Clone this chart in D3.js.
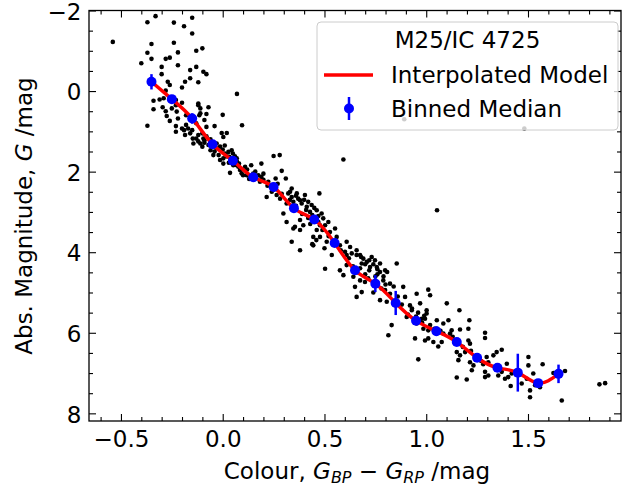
<!DOCTYPE html>
<html>
<head>
<meta charset="utf-8">
<script src="https://cdn.jsdelivr.net/npm/d3@7"></script>
<style>
  body { margin: 0; background: white; }
  svg { font-family: "DejaVu Sans", sans-serif; }
</style>
</head>
<body>
<script>
const width = 622;
const height = 486;

// Binned medians (colour bin centre, median abs. mag, error)
const binColour = [-0.35, -0.25, -0.15, -0.05, 0.05, 0.15, 0.25, 0.35, 0.45, 0.55, 0.65,
                   0.75, 0.85, 0.95, 1.05, 1.15, 1.25, 1.35, 1.45, 1.55, 1.65];
const binMag = [-0.23, 0.20, 0.68, 1.32, 1.73, 2.14, 2.38, 2.91, 3.19, 3.77, 4.45,
                4.78, 5.26, 5.70, 5.96, 6.23, 6.62, 6.87, 6.99, 7.25, 7.02];
const binErr = [0.19, 0.10, 0.13, 0.06, 0.05, 0.05, 0.05, 0.05, 0.07, 0.05, 0.05,
                0.21, 0.30, 0.05, 0.12, 0.05, 0.05, 0.05, 0.47, 0.05, 0.23];

// Cluster members [colour, abs. mag]
const stars = [
  [-0.33,-1.86],[-0.37,-1.71],[-0.24,-1.70],[-0.19,-1.61],[-0.15,-1.82],[-0.15,-1.43],
  [-0.54,-1.22],[-0.35,-1.17],[-0.24,-1.20],[-0.37,-0.95],[-0.22,-0.96],[-0.13,-1.00],
  [-0.10,-1.06],[-0.35,-0.80],[-0.28,-0.80],[-0.26,-0.83],[-0.40,-0.69],[-0.22,-0.64],
  [-0.30,-0.60],[-0.13,-0.60],[-0.16,-0.52],[-0.095,-0.48],[-0.08,-0.42],[-0.30,-0.42],
  [-0.16,-0.32],[-0.185,-0.23],[-0.12,-0.22],[-0.27,-0.23],[-0.26,-0.15],[-0.20,-0.09],
  [-0.28,-0.01],[-0.31,0.21],[-0.34,0.24],[-0.29,0.18],[-0.23,0.22],[-0.20,0.29],
  [-0.34,0.45],[-0.295,0.40],[-0.28,0.50],[-0.23,0.35],[-0.25,0.43],[-0.12,0.31],
  [-0.11,0.43],[-0.07,0.40],[-0.275,0.62],[-0.22,0.68],[-0.26,0.74],[-0.18,0.60],
  [-0.115,0.60],[-0.08,0.57],[0.00,0.59],[-0.09,0.72],[-0.13,0.80],[-0.08,0.89],
  [-0.04,0.87],[-0.37,0.86],[-0.23,0.87],[-0.18,0.84],[-0.19,0.97],[-0.17,0.93],
  [-0.23,1.01],[-0.185,1.09],[-0.15,0.97],[-0.005,1.04],[0.02,1.04],[0.07,0.07],
  [0.095,0.85],
  [-0.10,1.05],[-0.09,1.22],[-0.11,1.30],[-0.07,1.34],[-0.06,1.47],[-0.03,1.42],
  [-0.046,1.59],[-0.02,1.59],[-0.013,1.71],[0.003,1.67],[0.028,1.51],[0.044,1.47],
  [0.011,1.55],[0.032,1.63],[0.052,1.84],[0.069,1.84],[0.085,1.96],[0.10,2.09],
  [0.14,1.84],[0.19,1.80],[0.16,2.00],[0.175,2.09],[0.19,2.13],[0.25,1.61],
  [0.28,1.59],[0.29,1.98],[0.31,2.17],[0.26,2.17],
  [-0.226,0.51],[-0.20,0.93],[-0.16,1.05],[-0.12,0.35],[-0.11,0.55],[-0.13,1.18],
  [-0.095,1.18],[-0.10,1.38],[-0.013,1.38],
  [-0.147,1.18],[-0.12,1.09],[-0.144,1.30],[-0.08,1.12],[0.003,1.14],[0.003,1.80],
  [0.036,2.03],[0.069,1.67],[0.077,1.88],[0.093,2.04],[0.11,1.88],[0.118,2.09],
  [0.183,2.25],[0.224,2.25],[0.216,2.63],[0.241,2.50],[0.265,2.58],[0.282,2.67],
  [0.331,2.50],[0.339,2.63],[0.364,2.54],[0.314,2.79],[0.347,2.75],[0.38,2.71],
  [0.404,2.58],[0.413,2.87],[0.298,3.04],[0.314,3.25],[0.355,3.37],[0.38,3.20],
  [0.396,3.33],
  [0.339,2.42],[0.322,2.54],[0.371,2.67],[0.388,2.79],[0.437,2.83],[0.475,2.54],
  [0.429,3.00],[0.462,2.96],[0.486,3.04],[0.494,3.16],[0.519,3.25],[0.503,3.33],
  [0.478,3.33],[0.462,3.45],[0.445,3.62],[0.478,3.62],[0.527,3.50],[0.552,3.41],
  [0.56,3.62],[0.511,3.74],[0.543,3.78],[0.576,3.83],[0.609,3.74],[0.626,3.87],
  [0.601,3.99],[0.634,4.03],[0.658,3.95],[0.675,4.07],[0.691,4.16],[0.708,4.24],
  [0.683,4.28],[0.724,4.37],[0.748,4.20],[0.757,4.37],[0.798,4.45],[0.773,4.49],
  [0.503,4.41],[0.576,4.45],[0.593,4.57],[0.38,3.95],[0.339,3.74],[0.347,3.41],
  [0.38,3.45],[0.445,3.83],[0.536,4.07],[0.44,3.80],
  [0.609,4.07],[0.658,4.07],[0.732,4.12],[0.773,4.28],[0.609,4.32],[0.675,4.40],
  [0.808,4.49],[0.855,4.28],[0.642,4.61],[0.675,4.70],[0.699,4.74],[0.715,4.65],
  [0.65,4.86],[0.683,4.99],[0.658,5.11],[0.789,4.70],[0.822,4.78],[0.798,4.94],
  [0.822,5.03],[0.773,5.19],[0.806,5.23],[0.887,4.86],[0.896,5.11],[0.953,5.03],
  [1.01,4.93],[1.019,5.07],[0.92,5.32],[0.929,5.44],[0.97,5.27],[1.002,5.44],
  [0.904,5.61],[0.994,5.65],[0.953,5.77],[1.019,5.81],[1.052,5.69],[1.084,5.77],
  [1.101,5.27],[1.109,5.69],[0.83,5.81],[0.814,6.06],[0.945,6.14],[1.01,6.14],
  [1.059,6.34],
  [1.002,5.52],[0.978,5.65],[0.986,5.90],[1.01,5.94],[1.163,5.44],[1.125,5.94],
  [1.117,6.02],[1.084,6.02],[1.166,5.92],[1.212,5.69],[1.207,5.90],[0.994,6.19],
  [1.035,6.23],[1.076,6.23],[1.207,6.19],[1.215,6.27],[1.289,6.00],[1.289,6.13],
  [1.15,6.48],[1.166,6.56],[1.158,6.68],[1.191,6.48],[1.215,6.73],[1.224,6.93],
  [1.232,6.81],[1.297,6.60],[1.305,6.73],[1.33,6.56],[1.346,6.48],[1.371,6.42],
  [1.289,6.97],[1.289,7.10],[1.305,7.06],[1.354,7.06],[1.371,6.97],[1.396,6.77],
  [1.387,7.14],[1.403,7.10],[1.42,7.01],[1.415,7.32],[1.469,7.26],[1.494,7.14],
  [1.502,6.81],[1.502,6.60],[1.526,7.01],[1.572,6.78],[1.535,7.30],[1.51,7.43],
  [1.51,7.60],[1.559,7.35],[1.625,7.00],[1.682,6.95],[1.666,7.68],[1.851,7.28],
  [1.879,7.25],[1.15,7.11],[1.199,7.16],[0.961,6.66],
  [0.593,1.70],[1.053,2.96],[0.892,0.70],[1.482,0.93],
  [-0.12,1.25],[-0.09,1.28],[-0.06,1.25],[-0.05,1.35],[-0.04,1.50],[0.02,1.62],
  [0.04,1.72],[0.06,1.62],[0.36,2.60],[0.40,2.70],[0.42,2.75],[0.45,2.90],
  [0.41,2.95],[0.44,3.08],[0.47,3.10],[0.68,4.12],[0.70,4.30],[0.72,4.20],
  [0.74,4.30],[0.76,4.42],[0.76,4.55],[0.79,4.60],[0.80,4.80],[0.84,4.85],
  [0.93,5.40],[0.96,5.50],[0.99,5.58],[0.95,5.60],[1.25,6.65],[1.27,6.70],[1.28,6.78],
  [-0.06,1.20],[-0.03,1.30],[0.00,1.45],[0.01,1.35],[0.05,1.55],[0.07,1.75],
  [0.03,1.78],[0.08,1.80],[0.12,1.95],[0.15,2.05],[0.13,2.18],[0.20,2.20],
  [0.22,2.35],[0.25,2.45],[0.27,2.30],[0.29,2.55],[0.20,2.05],[0.33,2.70],
  [0.36,2.85],[0.39,3.05],[0.42,3.15],[0.43,3.30],[0.47,3.25],[0.49,3.45],
  [0.46,3.70],[0.52,3.60],[0.50,3.90],[0.58,3.95],[0.62,4.15],[0.64,4.35],
  [0.66,4.50],[0.70,4.55],[0.72,4.45],[0.75,4.60],[0.78,4.90],[0.74,5.00],
  [0.86,5.10],[0.88,5.30],[0.91,5.55],[0.98,5.75],[1.04,5.90],[1.07,5.95],
  [1.13,6.10],[1.18,6.35],[1.22,6.45]
];

const xTicks = [-0.5, 0.0, 0.5, 1.0, 1.5];
const yTicks = [-2, 0, 2, 4, 6, 8];
const legendTitle = "M25/IC 4725";
const legendLabels = ["Interpolated Model", "Binned Median"];

const fontSize = 23;

const x = d3.scaleLinear().domain([-0.657, 1.957]).range([89, 621]);
const y = d3.scaleLinear().domain([-2, 8.19]).range([10.5, 421]);

const svg = d3.select("body")
  .append("svg")
  .attr("width", width)
  .attr("height", height);

// Stars
svg.append("g").selectAll("circle")
  .data(stars)
  .join("circle")
  .attr("cx", d => x(d[0]))
  .attr("cy", d => y(d[1]))
  .attr("r", 2.3)
  .attr("fill", "black");

// Model line through the binned medians
const bins = binColour.map((c, i) => ({c: c, m: binMag[i], e: binErr[i]}));
const line = d3.line()
  .x(d => x(d.c))
  .y(d => y(d.m))
  .curve(d3.curveNatural);

svg.append("path")
  .datum(bins)
  .attr("d", line)
  .attr("fill", "none")
  .attr("stroke", "red")
  .attr("stroke-width", 3.4);

// Binned medians with error bars
svg.append("g").selectAll("line")
  .data(bins)
  .join("line")
  .attr("x1", d => x(d.c))
  .attr("x2", d => x(d.c))
  .attr("y1", d => y(d.m - d.e))
  .attr("y2", d => y(d.m + d.e))
  .attr("stroke", "blue")
  .attr("stroke-width", 2.5);

svg.append("g").selectAll("circle")
  .data(bins)
  .join("circle")
  .attr("cx", d => x(d.c))
  .attr("cy", d => y(d.m))
  .attr("r", 5)
  .attr("fill", "blue");

// Axes: inward ticks on all four sides
const minorX = x.ticks(26).filter(t => !xTicks.some(v => Math.abs(v - t) < 1e-9));
const minorY = y.ticks(20).filter(t => !yTicks.some(v => Math.abs(v - t) < 1e-9));

function style(g) {
  g.select(".domain").remove();
  g.attr("font-size", fontSize).attr("font-family", "DejaVu Sans");
  g.selectAll("line").attr("stroke", "black").attr("stroke-width", 1.1);
  g.selectAll("text").attr("fill", "black");
}

svg.append("g").attr("transform", "translate(0,421)")
  .call(d3.axisBottom(x).tickValues(xTicks).tickSize(-7).tickPadding(9.7)
    .tickFormat(d3.format(".1f")))
  .call(style);
svg.append("g").attr("transform", "translate(0,421)")
  .call(d3.axisBottom(x).tickValues(minorX).tickSize(-4).tickFormat(""))
  .call(style);
svg.append("g").attr("transform", "translate(0,10.5)")
  .call(d3.axisTop(x).tickValues(xTicks).tickSize(-7).tickFormat(""))
  .call(style);
svg.append("g").attr("transform", "translate(0,10.5)")
  .call(d3.axisTop(x).tickValues(minorX).tickSize(-4).tickFormat(""))
  .call(style);

svg.append("g").attr("transform", "translate(89,0)")
  .call(d3.axisLeft(y).tickValues(yTicks).tickSize(-7).tickPadding(7.5)
    .tickFormat(d3.format("d")))
  .call(style)
  .selectAll("text").attr("dy", "0.38em");
svg.append("g").attr("transform", "translate(89,0)")
  .call(d3.axisLeft(y).tickValues(minorY).tickSize(-4).tickFormat(""))
  .call(style);
svg.append("g").attr("transform", "translate(621,0)")
  .call(d3.axisRight(y).tickValues(yTicks).tickSize(-7).tickFormat(""))
  .call(style);
svg.append("g").attr("transform", "translate(621,0)")
  .call(d3.axisRight(y).tickValues(minorY).tickSize(-4).tickFormat(""))
  .call(style);

// Frame
svg.append("rect")
  .attr("x", 89).attr("y", 10.5)
  .attr("width", 532).attr("height", 410.5)
  .attr("fill", "none")
  .attr("stroke", "black")
  .attr("stroke-width", 1.3);

// Axis labels
const yLab = svg.append("text")
  .attr("transform", "translate(32,216) rotate(-90)")
  .attr("text-anchor", "middle")
  .attr("font-size", fontSize);
yLab.append("tspan").text("Abs. Magnitude, ");
yLab.append("tspan").attr("font-style", "italic").text("G");
yLab.append("tspan").text(" /mag");

const xLab = svg.append("text")
  .attr("x", 357).attr("y", 479)
  .attr("text-anchor", "middle")
  .attr("font-size", fontSize);
xLab.append("tspan").text("Colour, ");
xLab.append("tspan").attr("font-style", "italic").text("G");
xLab.append("tspan").attr("font-style", "italic").attr("font-size", 16)
  .attr("baseline-shift", "-4").text("BP");
xLab.append("tspan").text(" \u2212 ");
xLab.append("tspan").attr("font-style", "italic").text("G");
xLab.append("tspan").attr("font-style", "italic").attr("font-size", 16)
  .attr("baseline-shift", "-4").text("RP");
xLab.append("tspan").text(" /mag");

// Legend
const legend = svg.append("g");
legend.append("rect")
  .attr("x", 317).attr("y", 22)
  .attr("width", 301).attr("height", 108)
  .attr("rx", 4)
  .attr("fill", "white").attr("fill-opacity", 0.8)
  .attr("stroke", "#cccccc").attr("stroke-width", 1);
legend.append("text")
  .attr("x", 467.5).attr("y", 48)
  .attr("text-anchor", "middle")
  .attr("font-size", fontSize)
  .text(legendTitle);
legend.append("line")
  .attr("x1", 324).attr("x2", 373)
  .attr("y1", 75).attr("y2", 75)
  .attr("stroke", "red").attr("stroke-width", 3.4);
legend.append("line")
  .attr("x1", 349).attr("x2", 349)
  .attr("y1", 97).attr("y2", 120)
  .attr("stroke", "blue").attr("stroke-width", 2.5);
legend.append("circle")
  .attr("cx", 349).attr("cy", 108.5).attr("r", 5)
  .attr("fill", "blue");
legend.selectAll("text.entry")
  .data(legendLabels)
  .join("text")
  .attr("class", "entry")
  .attr("x", 391)
  .attr("y", (d, i) => 83 + i * 34)
  .attr("font-size", fontSize)
  .text(d => d);
</script>
</body>
</html>
